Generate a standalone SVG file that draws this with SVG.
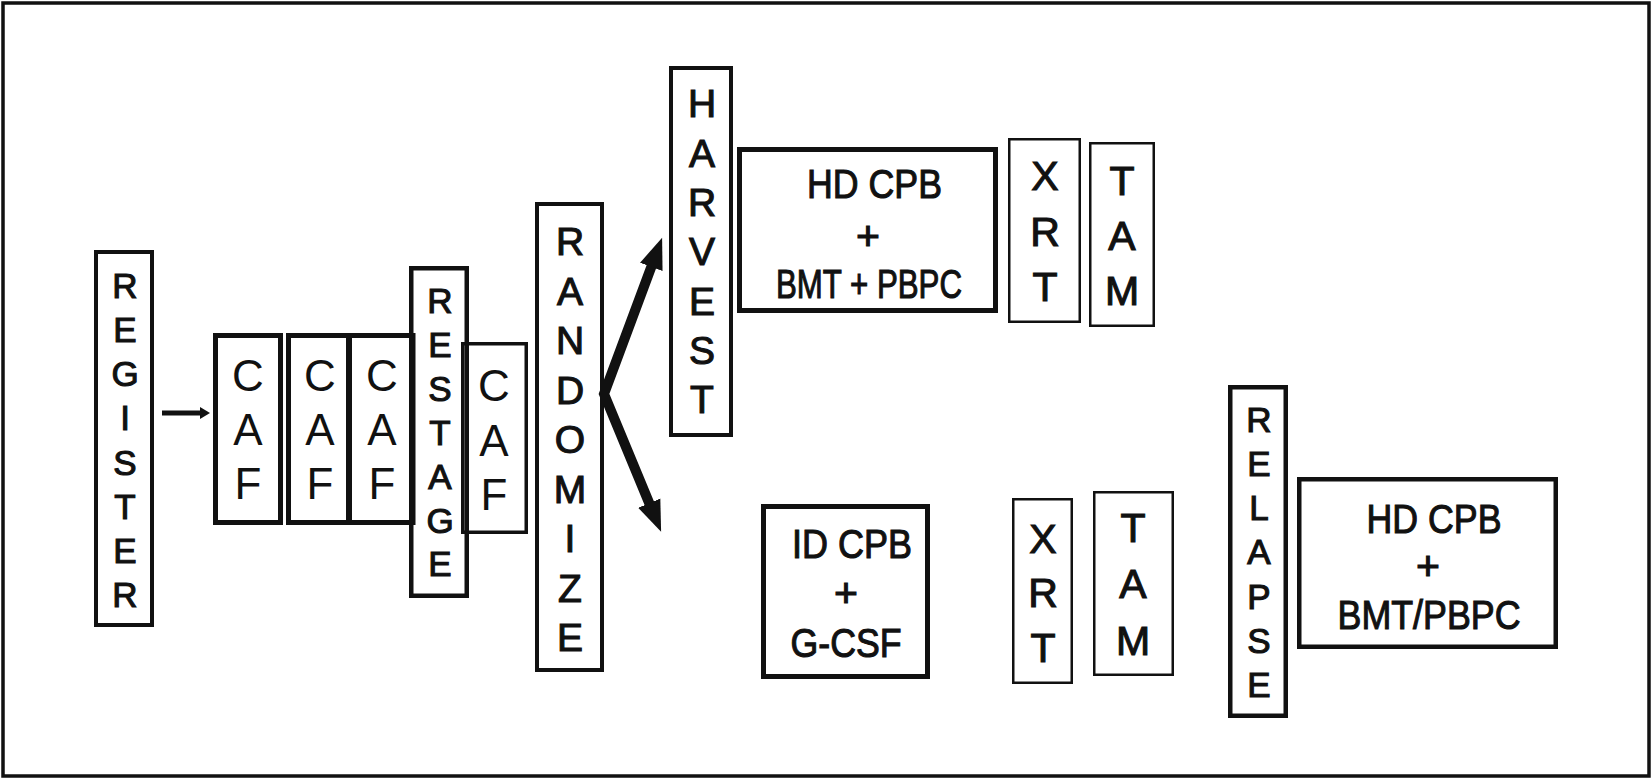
<svg xmlns="http://www.w3.org/2000/svg" width="1652" height="780" viewBox="0 0 1652 780">
<defs>
<style>
.box{fill:none;stroke:#111}
.t{font-family:"Liberation Sans",Arial,Helvetica,sans-serif;fill:#111;text-anchor:middle}
.b{stroke:#111;stroke-width:1.1px}
.s35{font-size:35px}.s39{font-size:39px}.s41v{font-size:41px}.s44{font-size:44px}.s41{font-size:41px}
.conn{fill:none;stroke:#111}
</style>
<marker id="bigHead" markerUnits="userSpaceOnUse" markerWidth="40" markerHeight="28" refX="2" refY="14" orient="auto-start-reverse" viewBox="0 0 40 28">
<path d="M0,2 L31,14 L0,26 z" fill="#111"/>
</marker>
<marker id="smallHead" markerUnits="userSpaceOnUse" markerWidth="12" markerHeight="14" refX="0" refY="7" orient="auto" viewBox="0 0 12 14">
<path d="M0,1 L10,7 L0,13 z" fill="#111"/>
</marker>
</defs>
<rect x="0" y="0" width="1652" height="780" fill="#fff"/>
<rect x="3" y="3" width="1646" height="773" fill="none" stroke="#111" stroke-width="3.5"/>

<g id="connectors">
<path class="conn" d="M162,413 L200,413" stroke-width="5" marker-end="url(#smallHead)"/>
<path class="conn" d="M652,265 L604,394 L650,505" stroke-width="10" stroke-linejoin="miter" stroke-miterlimit="10" marker-start="url(#bigHead)" marker-end="url(#bigHead)"/>
</g>

<g id="register">
<rect class="box" x="96" y="252" width="56" height="373" stroke-width="4"/>
<text class="t b s35"><tspan x="125" y="298">R</tspan><tspan x="125" y="342">E</tspan><tspan x="125" y="386">G</tspan><tspan x="125" y="430">I</tspan><tspan x="125" y="475">S</tspan><tspan x="125" y="519">T</tspan><tspan x="125" y="563">E</tspan><tspan x="125" y="607">R</tspan></text>
</g>

<g id="caf1">
<rect class="box" x="215.5" y="335.5" width="65" height="187" stroke-width="5"/>
<text class="t s44"><tspan x="248" y="391">C</tspan><tspan x="248" y="445">A</tspan><tspan x="248" y="499">F</tspan></text>
</g>
<g id="caf2">
<rect class="box" x="288.5" y="335.5" width="60" height="187" stroke-width="5"/>
<text class="t s44"><tspan x="320" y="391">C</tspan><tspan x="320" y="445">A</tspan><tspan x="320" y="499">F</tspan></text>
</g>
<g id="caf3">
<rect class="box" x="349.5" y="335.5" width="63.5" height="187" stroke-width="5"/>
<text class="t s44"><tspan x="382" y="391">C</tspan><tspan x="382" y="445">A</tspan><tspan x="382" y="499">F</tspan></text>
</g>

<g id="restage">
<rect class="box" x="411.25" y="268.25" width="55.5" height="327.5" stroke-width="4.5"/>
<text class="t b s35"><tspan x="440" y="313">R</tspan><tspan x="440" y="357">E</tspan><tspan x="440" y="401">S</tspan><tspan x="440" y="445">T</tspan><tspan x="440" y="489">A</tspan><tspan x="440" y="533">G</tspan><tspan x="440" y="576">E</tspan></text>
</g>

<g id="caf4">
<rect class="box" x="462.75" y="343.75" width="63.5" height="188.5" stroke-width="3.5"/>
<text class="t s44"><tspan x="494" y="401">C</tspan><tspan x="494" y="456">A</tspan><tspan x="494" y="510">F</tspan></text>
</g>

<g id="randomize">
<rect class="box" x="537" y="204" width="65" height="466" stroke-width="4"/>
<text class="t b s39"><tspan x="570" y="255">R</tspan><tspan x="570" y="304.5">A</tspan><tspan x="570" y="354">N</tspan><tspan x="570" y="403.5">D</tspan><tspan x="570" y="453">O</tspan><tspan x="570" y="502.5">M</tspan><tspan x="570" y="552">I</tspan><tspan x="570" y="601.5">Z</tspan><tspan x="570" y="651">E</tspan></text>
</g>

<g id="harvest">
<rect class="box" x="671" y="68" width="60" height="367" stroke-width="4"/>
<text class="t b s39"><tspan x="702" y="117">H</tspan><tspan x="702" y="166.5">A</tspan><tspan x="702" y="216">R</tspan><tspan x="702" y="265">V</tspan><tspan x="702" y="314.5">E</tspan><tspan x="702" y="364">S</tspan><tspan x="702" y="413">T</tspan></text>
</g>

<g id="hd-cpb-top">
<rect class="box" x="739.5" y="149.5" width="256" height="161" stroke-width="5"/>
<text class="t b s41" x="874.5" y="198" textLength="135" lengthAdjust="spacingAndGlyphs">HD CPB</text>
<text class="t b s41" x="868" y="250">+</text>
<text class="t b s41" x="869" y="298" textLength="186" lengthAdjust="spacingAndGlyphs">BMT + PBPC</text>
</g>

<g id="xrt-top">
<rect class="box" x="1009.25" y="139.25" width="70.5" height="182.5" stroke-width="2.5"/>
<text class="t b s41v"><tspan x="1045" y="190">X</tspan><tspan x="1045" y="246">R</tspan><tspan x="1045" y="301">T</tspan></text>
</g>
<g id="tam-top">
<rect class="box" x="1090.25" y="143.25" width="63.5" height="182.5" stroke-width="2.5"/>
<text class="t b s41v"><tspan x="1122" y="195">T</tspan><tspan x="1122" y="250">A</tspan><tspan x="1122" y="305">M</tspan></text>
</g>

<g id="id-cpb">
<rect class="box" x="763.5" y="506.5" width="164" height="170" stroke-width="5"/>
<text class="t b s41" x="852" y="558" textLength="120" lengthAdjust="spacingAndGlyphs">ID CPB</text>
<text class="t b s41" x="846" y="607">+</text>
<text class="t b s41" x="846" y="657" textLength="111" lengthAdjust="spacingAndGlyphs">G-CSF</text>
</g>

<g id="xrt-bottom">
<rect class="box" x="1013.25" y="499.25" width="58.5" height="183.5" stroke-width="2.5"/>
<text class="t b s41v"><tspan x="1043" y="553">X</tspan><tspan x="1043" y="607">R</tspan><tspan x="1043" y="662">T</tspan></text>
</g>
<g id="tam-bottom">
<rect class="box" x="1094.25" y="492.25" width="78.5" height="182.5" stroke-width="2.5"/>
<text class="t b s41v"><tspan x="1133" y="542">T</tspan><tspan x="1133" y="598">A</tspan><tspan x="1133" y="655">M</tspan></text>
</g>

<g id="relapse">
<rect class="box" x="1230.25" y="387.25" width="55.5" height="328.5" stroke-width="4.5"/>
<text class="t b s35"><tspan x="1259" y="432">R</tspan><tspan x="1259" y="476">E</tspan><tspan x="1259" y="520">L</tspan><tspan x="1259" y="564">A</tspan><tspan x="1259" y="609">P</tspan><tspan x="1259" y="653">S</tspan><tspan x="1259" y="697">E</tspan></text>
</g>

<g id="hd-cpb-bottom">
<rect class="box" x="1299.25" y="479.25" width="256.5" height="167.5" stroke-width="4.5"/>
<text class="t b s41" x="1434" y="533" textLength="135" lengthAdjust="spacingAndGlyphs">HD CPB</text>
<text class="t b s41" x="1428" y="580">+</text>
<text class="t b s41" x="1429" y="629" textLength="183" lengthAdjust="spacingAndGlyphs">BMT/PBPC</text>
</g>
</svg>
